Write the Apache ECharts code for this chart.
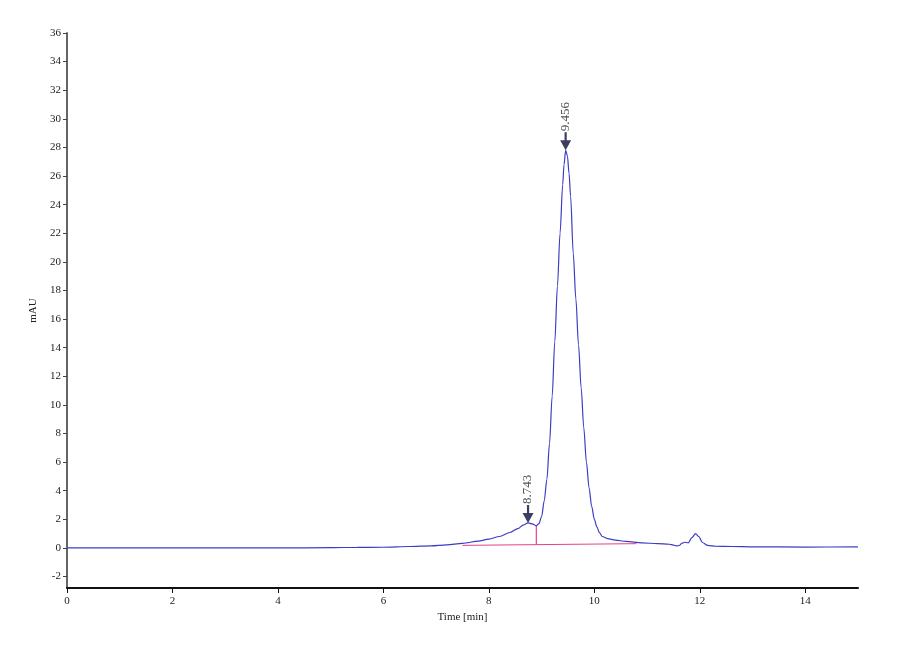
<!DOCTYPE html>
<html>
<head>
<meta charset="utf-8">
<title>Chromatogram</title>
<script src="https://cdn.jsdelivr.net/npm/echarts@6/dist/echarts.min.js"></script>
<style>
    html, body { margin: 0; padding: 0; background: #fff; }
    #chart { width: 900px; height: 660px; }
</style>
</head>
<body>
<div id="chart"></div>
<script>
// signal trace, time in min / absorbance in mAU
var times = [0, 1, 2, 3, 4, 5, 5.5, 6, 6.5, 6.9, 7.2, 7.5, 7.8, 8, 8.2, 8.4, 8.55, 8.65, 8.743, 8.82, 8.9, 8.95,
    9, 9.05, 9.1, 9.15, 9.2, 9.25, 9.3, 9.35, 9.4, 9.425, 9.456, 9.49, 9.52, 9.55, 9.6, 9.65, 9.7, 9.75, 9.8, 9.85, 9.9, 9.95,
    10, 10.05, 10.1, 10.15, 10.25, 10.4, 10.6, 10.9, 11.2, 11.42, 11.5, 11.56, 11.61, 11.66, 11.72, 11.78, 11.85, 11.92,
    11.98, 12.05, 12.15, 12.3, 12.6, 13, 14, 15];
var mAU = [0, 0, 0, 0, 0, 0.02, 0.04, 0.05, 0.1, 0.15, 0.22, 0.32, 0.48, 0.62, 0.8, 1.08, 1.35, 1.6, 1.75, 1.68, 1.55, 1.7,
    2.2, 3.3, 4.8, 7.3, 10.6, 14.4, 18.3, 22.0, 25.4, 26.8, 27.8, 27.4, 26.2, 24.6, 20.6, 17.4, 14.2, 11.2, 8.4, 6.0, 4.2, 2.9,
    2.0, 1.45, 1.05, 0.8, 0.65, 0.55, 0.46, 0.36, 0.3, 0.26, 0.2, 0.14, 0.17, 0.33, 0.4, 0.36, 0.72, 1.0,
    0.8, 0.38, 0.18, 0.12, 0.1, 0.08, 0.06, 0.08];

// peak marks
var peakTimes = [8.743, 9.456];
var peakHeights = [1.75, 27.8];

// integration baseline and drop line
var baseTimes = [7.5, 10.8];
var baseValues = [0.18, 0.3];
var dropTime = 8.9;
var dropValues = [0.23, 1.55];

var xTicks = [0, 2, 4, 6, 8, 10, 12, 14];
var yTicks = [-2, 0, 2, 4, 6, 8, 10, 12, 14, 16, 18, 20, 22, 24, 26, 28, 30, 32, 34, 36];

var font = "'Liberation Serif', 'Times New Roman', serif";

var trace = times.map(function (t, i) { return [t, mAU[i]]; });
var peaks = peakTimes.map(function (t, i) { return [t, peakHeights[i]]; });
var base = baseTimes.map(function (t, i) { return [t, baseValues[i]]; });
var drop = dropValues.map(function (v) { return [dropTime, v]; });

var myChart = echarts.init(document.getElementById("chart"));

var option = {
    animation: false,
    backgroundColor: "#fff",
    grid: {
        left: 67,
        right: 42,
        top: 33,
        bottom: 72
    },
    xAxis: {
        type: "value",
        min: 0,
        max: 15,
        name: "Time [min]",
        nameLocation: "middle",
        nameGap: 24,
        nameTextStyle: { fontFamily: font, fontSize: 11, color: "#222" },
        axisLine: { onZero: false, lineStyle: { color: "#111", width: 2 } },
        axisTick: { customValues: xTicks, length: 5, lineStyle: { color: "#111" } },
        axisLabel: { customValues: xTicks, fontFamily: font, fontSize: 11, color: "#222", margin: 8 },
        splitLine: { show: false }
    },
    yAxis: {
        type: "value",
        min: -2.8,
        max: 36,
        name: "mAU",
        nameLocation: "middle",
        nameGap: 28,
        nameTextStyle: { fontFamily: font, fontSize: 11, color: "#222" },
        axisLine: { show: true, lineStyle: { color: "#666", width: 2 } },
        axisTick: { show: true, customValues: yTicks, length: 4, lineStyle: { color: "#444" } },
        axisLabel: { customValues: yTicks, fontFamily: font, fontSize: 11, color: "#222", margin: 6 },
        splitLine: { show: false }
    },
    series: [
        {
            name: "baseline",
            type: "line",
            data: base,
            symbol: "none",
            lineStyle: { color: "#e8408a", width: 1 },
            z: 2
        },
        {
            name: "drop",
            type: "line",
            data: drop,
            symbol: "none",
            lineStyle: { color: "#e8408a", width: 1.2 },
            z: 2
        },
        {
            name: "signal",
            type: "line",
            data: trace,
            symbol: "none",
            smooth: 0.3,
            smoothMonotone: "x",
            lineStyle: { color: "#3c3cc4", width: 1.2 },
            z: 3
        },
        {
            name: "peaks",
            type: "scatter",
            data: peaks,
            symbol: "path://M4,0 L6,0 L6,8 L10,8 L5,18 L0,8 L4,8 Z",
            symbolSize: [11, 18],
            symbolOffset: [0, "-50%"],
            itemStyle: { color: "#0c0c3a" },
            label: {
                show: true,
                position: "top",
                distance: 1,
                rotate: 90,
                align: "left",
                verticalAlign: "middle",
                fontFamily: font,
                fontSize: 13,
                color: "#222",
                formatter: function (p) { return p.value[0].toFixed(3); }
            },
            z: 4
        }
    ]
};

myChart.setOption(option);
window.addEventListener("resize", function () {
    myChart.resize();
});
</script>
</body>
</html>
